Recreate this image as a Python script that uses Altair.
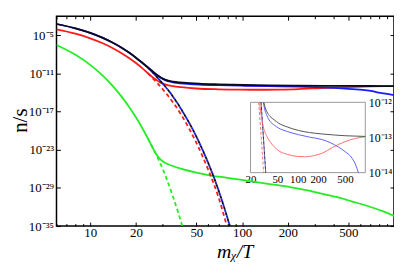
import altair as alt
import pandas as pd

# ---------------- data (x = m_chi/T, values are log10(n/s)) ----------------
black_x = [6, 8, 10, 12, 14, 16, 18, 20, 22, 24, 26, 28, 30, 31.5, 33, 35, 39, 45, 52, 70, 103, 150, 230, 350, 500, 700, 1000]
black_e = [-3.2, -3.88, -4.6, -5.35, -6.12, -6.9, -7.7, -8.5, -9.3, -10.05, -10.75, -11.35, -11.8, -12.0, -12.15, -12.27,
           -12.4, -12.5, -12.59, -12.7, -12.8, -12.86, -12.9, -12.93, -12.95, -12.96, -12.97]

blue_x = [6, 8, 10, 12, 14, 16, 18, 20, 22, 24, 26, 28, 30, 31.0, 33, 35, 39, 45, 52, 70, 103, 150, 230, 305, 400, 500,
          643, 720, 790, 900, 1000]
blue_e = [-3.2, -3.88, -4.6, -5.35, -6.12, -6.9, -7.7, -8.5, -9.3, -10.05, -10.75, -11.35, -11.82, -12.0, -12.25, -12.38,
          -12.54, -12.65, -12.73, -12.83, -12.92, -12.99, -13.06, -13.15, -13.27, -13.4, -13.6, -13.78, -14.0, -14.2, -14.4]

red_x = [6, 8, 10, 12, 14, 16, 18, 20, 22, 24, 26, 27.3, 28.7, 31, 35, 40, 50, 70, 100, 130, 170, 235, 330, 500, 700, 1000]
red_e = [-4.05, -4.73, -5.45, -6.2, -6.97, -7.75, -8.55, -9.35, -10.15, -10.95, -11.65, -12.0, -12.35, -12.7, -12.97,
         -13.15, -13.35, -13.48, -13.54, -13.55, -13.52, -13.44, -13.28, -13.12, -13.03, -12.98]

green_x = [6, 8, 10, 12, 14, 16, 18, 20, 22, 24, 26, 27, 28, 29, 30, 32, 35, 40, 50, 62, 80, 108, 148, 210, 280, 350,
           430, 525, 700, 850, 1000]
green_e = [-6.5, -8.05, -9.64, -11.26, -12.9, -14.55, -16.21, -17.89, -19.56, -21.24, -22.85, -23.55, -24.1, -24.5, -24.8,
           -25.2, -25.55, -26.0, -26.6, -27.05, -27.4, -27.85, -28.35, -28.9, -29.45, -30.0, -30.5, -31.1, -32.0, -32.7, -33.4]

# equilibrium (dashed) curves
black_eq_x = [24, 26, 28.6, 30, 33.6, 40, 50, 60, 70, 80, 84]
black_eq_e = [-10.05, -10.93, -12.0, -12.57, -14.0, -16.72, -20.92, -25.14, -29.38, -33.7, -35.4]
blue_eq_x = [24, 26, 28.6, 30, 33.6, 40, 50, 60, 70, 80, 84]
blue_eq_e = [-10.05, -10.93, -12.0, -12.57, -14.0, -16.72, -20.92, -25.14, -29.38, -33.7, -35.4]
red_eq_x = [24, 26, 26.4, 28, 31.3, 35, 40, 50, 60, 70, 80]
red_eq_e = [-10.95, -11.85, -12.0, -12.65, -14.0, -15.5, -17.6, -21.9, -26.2, -30.5, -35.3]
green_eq_x = [24, 26, 28, 30, 32, 35, 38, 41]
green_eq_e = [-21.24, -22.85, -24.4, -26.0, -27.7, -30.3, -32.9, -35.5]

# ticks / domains
X_TICKS = [10, 20, 50, 100, 200, 500]
X_MINOR = [6, 7, 8, 9, 30, 40, 60, 70, 80, 90, 300, 400, 600, 700, 800, 900]
Y_TICK_EXP = [-35, -29, -23, -17, -11, -5]
X_DOMAIN = [6, 1000]
Y_DOMAIN_EXP = [-35, -1.98]
INSET_X_TICKS = [20, 50, 100, 200, 500]
INSET_X_MINOR = [30, 40, 60, 70, 80, 90, 300, 400, 600, 700, 800, 900]
INSET_Y_EXP = [-14, -13, -12]
INSET_X_DOMAIN = [20, 1000]
INSET_Y_DOMAIN_EXP = [-14, -12]

# ---------------- layout ----------------
W, H = 341, 212
FONT = "Liberation Serif"
INSET_XR = [196, 312]
INSET_YR = [158, 87]

SUP = str.maketrans("0123456789-", "⁰¹²³⁴⁵⁶⁷⁸⁹⁻")


def pow_expr(exps):
    e = "round(log(datum.value)/LN10)"
    parts = [f"{e} == {k} ? '10{str(k).translate(SUP)}'" for k in exps]
    return " : ".join(parts) + " : ''"


def make_df(xs, es):
    return pd.DataFrame({"x": xs, "e": es, "y": [10.0 ** v for v in es]})


df_black = make_df(black_x, black_e)
df_blue = make_df(blue_x, blue_e)
df_red = make_df(red_x, red_e)
df_green = make_df(green_x, green_e)
df_black_eq = make_df(black_eq_x, black_eq_e)
df_blue_eq = make_df(blue_eq_x, blue_eq_e)
df_red_eq = make_df(red_eq_x, red_eq_e)
df_green_eq = make_df(green_eq_x, green_eq_e)

xs = alt.Scale(type="log", domain=X_DOMAIN, nice=False)
ys = alt.Scale(type="log", domain=[10.0 ** Y_DOMAIN_EXP[0], 10.0 ** Y_DOMAIN_EXP[1]], nice=False)
xi = alt.Scale(type="log", domain=INSET_X_DOMAIN, range=INSET_XR, nice=False)
yi = alt.Scale(type="log", domain=[10.0 ** INSET_Y_DOMAIN_EXP[0], 10.0 ** INSET_Y_DOMAIN_EXP[1]],
               range=INSET_YR, nice=False)


def line(df, color, width, xscale, yscale, dash=None, offset=0, inset=False):
    kw = dict(color=color, strokeWidth=width, clip=True, interpolate="monotone")
    if dash:
        kw["strokeDash"] = dash
        kw["strokeDashOffset"] = offset
    ch = alt.Chart(df)
    if inset:
        ch = ch.transform_filter("datum.e >= -14.0001 && datum.e <= -11.9999")
    return ch.mark_line(**kw).encode(
        x=alt.X("x:Q", scale=xscale, axis=None),
        y=alt.Y("y:Q", scale=yscale, axis=None),
    )


def tick_axis(orient, values, size, offset=None, color="black"):
    return alt.Axis(orient=orient, values=values, offset=-size if offset is None else offset,
                    tickSize=size, tickWidth=1, tickColor=color, labels=False, domain=False,
                    grid=False, title="")


def axis_layer(xaxis, yaxis):
    return alt.Chart(df_black).mark_point(opacity=0).encode(
        x=alt.X("x:Q", scale=xs, axis=xaxis),
        y=alt.Y("y:Q", scale=ys, axis=yaxis),
    )


y_vals = [10.0 ** k for k in Y_TICK_EXP]

label_axes = axis_layer(
    alt.Axis(orient="bottom", values=X_TICKS, format="d", ticks=False, domain=False, grid=False,
             labelFont=FONT, labelFontSize=13, labelColor="black", labelPadding=1, labelFlush=False,
             title="mᵪ/T", titleFont=FONT, titleFontSize=20, titleFontStyle="italic",
             titleFontWeight="normal", titleColor="black", titleBaseline="alphabetic",
             titleX=180, titleY=32),
    alt.Axis(orient="left", values=y_vals, labelExpr=pow_expr(Y_TICK_EXP), ticks=False, domain=False,
             grid=False, labelFont=FONT, labelFontSize=13, labelColor="black", labelPadding=3,
             title="n/s", titleFont=FONT, titleFontSize=21, titleFontWeight="normal", titleColor="black",
             titleX=-36, titleY=105, titleBaseline="middle", titleAngle=-90),
)
major_a = axis_layer(tick_axis("bottom", X_TICKS, 4), tick_axis("left", y_vals, 4))
major_b = axis_layer(tick_axis("top", X_TICKS, 4), tick_axis("right", y_vals, 4))
minor_a = axis_layer(tick_axis("bottom", X_MINOR, 2.5), None)
minor_b = axis_layer(tick_axis("top", X_MINOR, 2.5), None)

LW = 1.8
main = alt.layer(
    label_axes, major_a, major_b, minor_a, minor_b,
    line(df_green_eq, "#22ee22", LW, xs, ys, dash=[4, 3]),
    line(df_green, "#22ee22", LW, xs, ys),
    line(df_red_eq, "#ff1a1a", LW, xs, ys, dash=[4, 3]),
    line(df_red, "#ff1a1a", LW, xs, ys),
    line(df_blue_eq, "#1a1aff", LW, xs, ys, dash=[3, 3], offset=3),
    line(df_black_eq, "#0a0a1e", LW, xs, ys, dash=[3, 3]),
    line(df_blue, "#1a1aff", LW, xs, ys),
    line(df_black, "#0a0a1e", LW, xs, ys),
).resolve_axis(x="independent", y="independent")

frame_df = pd.DataFrame({"x": [INSET_X_DOMAIN[0]], "x2": [INSET_X_DOMAIN[1]],
                         "y": [10.0 ** INSET_Y_DOMAIN_EXP[0]], "y2": [10.0 ** INSET_Y_DOMAIN_EXP[1]]})
inset_frame = alt.Chart(frame_df).mark_rect(fill="white", stroke="#9a9a9a", strokeWidth=1).encode(
    x=alt.X("x:Q", scale=xi, axis=alt.Axis(orient="bottom", offset=INSET_YR[0] - H, values=INSET_X_TICKS,
                                            format="d", ticks=False, domain=False, grid=False,
                                            labelFont=FONT, labelFontSize=11, labelColor="black",
                                            labelPadding=1, labelFlush=False, labelOverlap=False, title="")),
    x2="x2:Q",
    y=alt.Y("y:Q", scale=yi, axis=alt.Axis(orient="right", offset=INSET_XR[1] - W,
                                            values=[10.0 ** k for k in INSET_Y_EXP],
                                            labelExpr=pow_expr(INSET_Y_EXP), ticks=False, domain=False,
                                            grid=False, labelFont=FONT, labelFontSize=12, labelColor="black",
                                            labelPadding=3, labelFlush=False, labelOverlap=False, title="")),
    y2="y2:Q",
)


def inset_tick_layer(values, size):
    return alt.Chart(frame_df).mark_point(opacity=0).encode(
        x=alt.X("x:Q", scale=xi, axis=tick_axis("bottom", values, size, offset=INSET_YR[0] - H - size,
                                                 color="#9a9a9a")),
        y=alt.Y("y:Q", scale=yi, axis=None),
    )


ILW = 1
inset = alt.layer(
    inset_frame,
    inset_tick_layer(INSET_X_TICKS, 3),
    inset_tick_layer(INSET_X_MINOR, 2),
    line(df_red_eq, "#ff7070", ILW, xi, yi, dash=[3, 2], inset=True),
    line(df_blue_eq, "#6060ff", ILW, xi, yi, dash=[3, 2], offset=2, inset=True),
    line(df_black_eq, "#333333", ILW, xi, yi, dash=[3, 2], inset=True),
    line(df_red, "#ff7070", ILW, xi, yi, inset=True),
    line(df_blue, "#6060ff", ILW, xi, yi, inset=True),
    line(df_black, "#555555", ILW, xi, yi, inset=True),
).resolve_axis(x="independent", y="independent")

chart = alt.layer(main, inset).resolve_scale(x="independent", y="independent").properties(
    width=W, height=H,
    autosize=alt.AutoSizeParams(type="none"),
    padding={"left": 49, "top": 7, "right": 0, "bottom": 37},
).configure_view(stroke="black", strokeWidth=1.5)

chart.save("out.html", embed_options={"renderer": "svg", "actions": False})
